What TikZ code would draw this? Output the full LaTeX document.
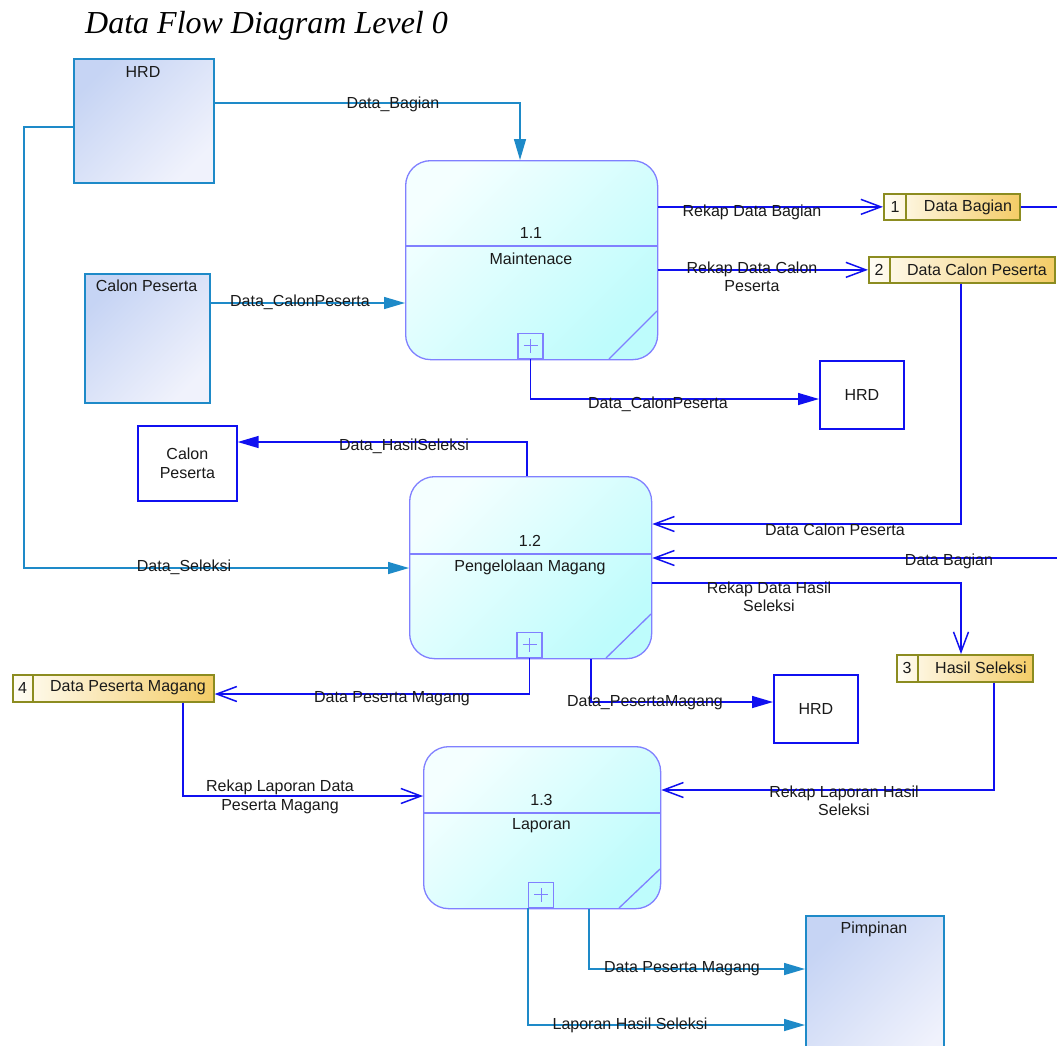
\documentclass[tikz,border=0pt]{standalone}
\usepackage{fontspec}
\setmainfont{Liberation Sans}
\newfontfamily\titlefont{Liberation Serif}
\usetikzlibrary{arrows.meta}

\definecolor{flowteal}{RGB}{30,138,200}
\definecolor{flowblue}{RGB}{16,16,240}
\definecolor{procedge}{RGB}{128,128,255}
\definecolor{procA}{RGB}{244,255,255}
\definecolor{procB}{RGB}{190,252,252}
\definecolor{entA}{RGB}{198,212,244}
\definecolor{entB}{RGB}{240,242,252}
\definecolor{storeedge}{RGB}{140,140,32}
\definecolor{storeA}{RGB}{255,253,245}
\definecolor{storeB}{RGB}{244,204,102}
\definecolor{ink}{RGB}{26,26,26}

\begin{document}
\begin{tikzpicture}[x=1pt,y=-1pt,
  lbl/.style={font=\fontsize{16}{18.5}\selectfont, text=ink, align=center, inner sep=0pt},
  entity/.style={draw=flowteal, line width=1.5pt, top color=entA, bottom color=entB,
    shading angle=45, anchor=north west, inner sep=0pt},
  sink/.style={draw=flowblue, line width=1.7pt, fill=white, anchor=north west,
    inner sep=0pt, font=\fontsize{16}{18.5}\selectfont, text=ink, align=center},
  proc/.style={draw=procedge, line width=1.3pt, rounded corners=25pt, top color=procA,
    bottom color=procB, shading angle=45, anchor=north west, inner sep=0pt},
  procline/.style={draw=procedge, line width=1.3pt},
  plusbox/.style={draw=procedge, line width=1.2pt, minimum size=25pt, inner sep=0pt,
    anchor=south, path picture={
      \draw[procedge, line width=1pt]
        ([xshift=-7pt]path picture bounding box.center) -- ([xshift=7pt]path picture bounding box.center)
        ([yshift=-7pt]path picture bounding box.center) -- ([yshift=7pt]path picture bounding box.center);}},
  store/.style={draw=storeedge, line width=1.7pt, left color=storeA, right color=storeB,
    anchor=north west, inner sep=0pt, minimum height=26pt},
  storeline/.style={draw=storeedge, line width=1.7pt},
  tealflow/.style={draw=flowteal, line width=1.5pt, -{Triangle[length=21pt,width=12pt]}},
  bluefill/.style={draw=flowblue, line width=1.5pt, -{Triangle[length=21pt,width=12pt]}},
  blueopen/.style={draw=flowblue, line width=1.5pt, -{Straight Barb[length=20pt,width=15pt]}}
]
\useasboundingbox (0,0) rectangle (1057,1045);

% title
\node[anchor=base west, inner sep=0pt, text=black,
      font=\titlefont\itshape\fontsize{32}{37}\selectfont] (title) at (85,33)
      {Data Flow Diagram Level 0};

% external entities
\node[entity, minimum width=140pt, minimum height=124pt] (hrdA) at (73,58) {};
\node[lbl] (hrdAl) at (143,72) {HRD};
\node[entity, minimum width=125pt, minimum height=129pt] (calonA) at (84,273) {};
\node[lbl] (calonAl) at (146.5,286) {Calon Peserta};
\node[entity, minimum width=138pt, minimum height=160pt] (pim) at (805,915) {};
\node[lbl] (piml) at (874,929) {Pimpinan};

% terminators
\node[sink, minimum width=84pt, minimum height=68pt] (hrdB) at (819,360) {HRD};
\node[sink, minimum width=99pt, minimum height=75pt] (calonB) at (137,425) {Calon\\Peserta};
\node[sink, minimum width=84pt, minimum height=68pt] (hrdC) at (773,674) {HRD};

% process 1.1
\node[proc, minimum width=252pt, minimum height=199pt] (p1) at (405,160) {};
\draw[procline] (p1.west |- 0,246) -- (p1.east |- 0,246);
\draw[procline] (609,359) -- (657,311);
\node[lbl] (p1n) at (531,233) {1.1};
\node[lbl] (p1t) at (531,259) {Maintenace};
\node[plusbox] (p1plus) at (530.5,359) {};

% process 1.2
\node[proc, minimum width=242pt, minimum height=182pt] (p2) at (409,476) {};
\draw[procline] (p2.west |- 0,554) -- (p2.east |- 0,554);
\draw[procline] (606,658) -- (651,614);
\node[lbl] (p2n) at (530,541) {1.2};
\node[lbl] (p2t) at (530,567) {Pengelolaan Magang};
\node[plusbox] (p2plus) at (529.5,658) {};

% process 1.3
\node[proc, minimum width=237pt, minimum height=162pt] (p3) at (423,746) {};
\draw[procline] (p3.west |- 0,813) -- (p3.east |- 0,813);
\draw[procline] (619,908) -- (660,869);
\node[lbl] (p3n) at (541.5,800) {1.3};
\node[lbl] (p3t) at (541.5,826) {Laporan};
\node[plusbox] (p3plus) at (541,908) {};

% data stores
\node[store, minimum width=136pt] (s1) at (883,193) {};
\draw[storeline] (906,193) -- (906,219);
\node[lbl] (s1n) at (895,207) {1};
\node[lbl] (s1t) at (968,207) {Data Bagian};

\node[store, minimum width=186pt] (s2) at (868,256) {};
\draw[storeline] (890,256) -- (890,282);
\node[lbl] (s2n) at (879,270) {2};
\node[lbl] (s2t) at (977,270) {Data Calon Peserta};

\node[store, minimum width=136pt, minimum height=27pt] (s3) at (896,654) {};
\draw[storeline] (918,654) -- (918,681);
\node[lbl] (s3n) at (907,668) {3};
\node[lbl] (s3t) at (981,668) {Hasil Seleksi};

\node[store, minimum width=201pt, minimum height=27pt] (s4) at (12,674) {};
\draw[storeline] (33,674) -- (33,701);
\node[lbl] (s4n) at (22.5,688) {4};
\node[lbl] (s4t) at (128,688) {Data Peserta Magang};

% data flows
\draw[tealflow] (hrdA.east |- 0,103) -| (p1.north -| 520,0);
\draw[tealflow] (hrdA.west |- 0,127) -- ++(-49,0) |- (p2.west |- 0,568);
\draw[tealflow] (calonA.east |- 0,303) -- (p1.west |- 0,303);
\draw[blueopen] (p1.east |- s1.west) -- (s1.west);
\draw[blueopen] (p1.east |- s2.west) -- (s2.west);
\draw[bluefill] (p1plus.south) |- (hrdB.west |- 0,399);
\draw[bluefill] (p2.north -| 527,0) |- (calonB.east |- 0,442);
\draw[blueopen] (s2.south -| 961,0) |- (p2.east |- 0,524);
\draw[blueopen] (s1.east) -- ++(70,0) |- (p2.east |- 0,558);
\draw[blueopen] (p2.east |- 0,583) -| (s3.north -| 961,0);
\draw[blueopen] (p2plus.south) |- (s4.east |- 0,694);
\draw[bluefill] (p2.south -| 591,0) |- (hrdC.west |- 0,702);
\draw[blueopen] (s4.south -| 183,0) |- (p3.west |- 0,796);
\draw[blueopen] (s3.south -| 994,0) |- (p3.east |- 0,790);
\draw[tealflow] (p3.south -| 589,0) |- (pim.west |- 0,969);
\draw[tealflow] (p3plus.south west) |- (pim.west |- 0,1025);

% flow labels
\node[lbl] (f1) at (393,104) {Data\_Bagian};
\node[lbl] (f2) at (184,567) {Data\_Seleksi};
\node[lbl] (f3) at (300,302) {Data\_CalonPeserta};
\node[lbl] (f4) at (752,212) {Rekap Data Bagian};
\node[lbl] (f5) at (752,277) {Rekap Data Calon\\Peserta};
\node[lbl] (f6) at (658,404) {Data\_CalonPeserta};
\node[lbl] (f7) at (404,446) {Data\_HasilSeleksi};
\node[lbl] (f8) at (835,530) {Data Calon Peserta};
\node[lbl] (f9) at (949,561) {Data Bagian};
\node[lbl] (f10) at (769,597) {Rekap Data Hasil\\Seleksi};
\node[lbl] (f11) at (392,699) {Data Peserta Magang};
\node[lbl] (f12) at (645,703) {Data\_PesertaMagang};
\node[lbl] (f13) at (280,797) {Rekap Laporan Data\\Peserta Magang};
\node[lbl] (f14) at (844,801) {Rekap Laporan Hasil\\Seleksi};
\node[lbl] (f15) at (682,969) {Data Peserta Magang};
\node[lbl] (f16) at (630,1025) {Laporan Hasil Seleksi};
\end{tikzpicture}
\end{document}
